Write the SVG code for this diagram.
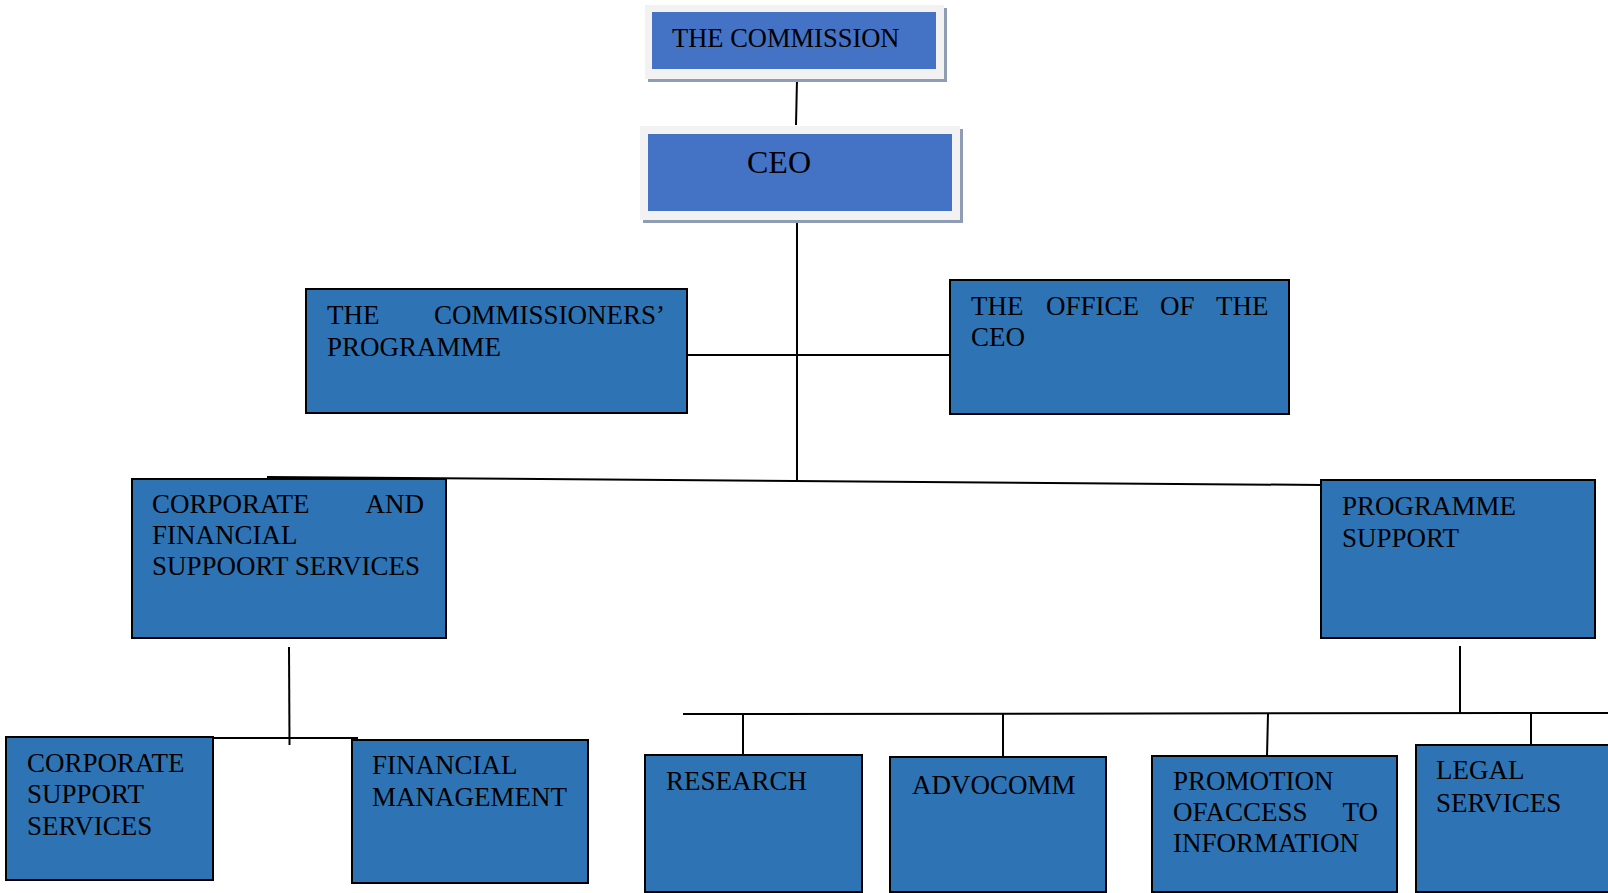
<svg xmlns="http://www.w3.org/2000/svg" width="1608" height="893" viewBox="0 0 1608 893">
<style>
text{font-family:"Liberation Serif","Times New Roman",serif;font-size:27px;fill:#000}
.box{fill:#2e74b5;stroke:#000;stroke-width:2}
.frame{fill:#f2f2f2}
.shadow{fill:#8e9cb4}
.top{fill:#4472c4}
.conn line{stroke:#000;stroke-width:2}
</style>
<rect width="1608" height="893" fill="#fff"/>
<g id="connectors" class="conn">
<line x1="797" y1="79" x2="796" y2="125"/>
<line x1="797" y1="217" x2="797" y2="481"/>
<line x1="686" y1="355" x2="951" y2="355"/>
<line x1="267" y1="477" x2="1321" y2="485"/>
<line x1="289" y1="647" x2="289.5" y2="745"/>
<line x1="164" y1="738" x2="358" y2="738"/>
<line x1="1460" y1="646" x2="1460" y2="714"/>
<line x1="683" y1="714" x2="1608" y2="713"/>
<line x1="743" y1="714" x2="743" y2="755"/>
<line x1="1003" y1="714" x2="1003" y2="757"/>
<line x1="1268" y1="714" x2="1267" y2="756"/>
<line x1="1531" y1="714" x2="1531" y2="745"/>
</g>
<g id="commission">
<rect class="shadow" x="648" y="8" width="299" height="74"/>
<rect class="frame" x="645" y="5" width="299" height="74"/>
<rect class="top" x="652" y="12" width="284" height="57"/>
<text x="672" y="47" style="font-size:26.5px">THE COMMISSION</text>
</g>
<g id="ceo">
<rect class="shadow" x="643" y="129" width="320" height="94"/>
<rect class="frame" x="640" y="126" width="320" height="94"/>
<rect class="top" x="648" y="134" width="304" height="77"/>
<text x="747" y="173" style="font-size:32px">CEO</text>
</g>
<g id="commissioners-programme">
<rect class="box" x="306" y="289" width="381" height="124"/>
<text x="327" y="324">THE</text>
<text x="665" y="324" text-anchor="end">COMMISSIONERS’</text>
<text x="327" y="356">PROGRAMME</text>
</g>
<g id="office-of-ceo">
<rect class="box" x="950" y="280" width="339" height="134"/>
<text y="315"><tspan x="971">THE</tspan><tspan x="1046">OFFICE</tspan><tspan x="1160">OF</tspan><tspan x="1216">THE</tspan></text>
<text x="971" y="346">CEO</text>
</g>
<g id="corporate-financial">
<rect class="box" x="132" y="479" width="314" height="159"/>
<text x="152" y="513">CORPORATE</text>
<text x="424" y="513" text-anchor="end">AND</text>
<text x="152" y="544">FINANCIAL</text>
<text x="152" y="575">SUPPOORT SERVICES</text>
</g>
<g id="programme-support">
<rect class="box" x="1321" y="480" width="274" height="158"/>
<text x="1342" y="515">PROGRAMME</text>
<text x="1342" y="547">SUPPORT</text>
</g>
<g id="corporate-support-services">
<rect class="box" x="6" y="737" width="207" height="143"/>
<text x="27" y="772">CORPORATE</text>
<text x="27" y="803">SUPPORT</text>
<text x="27" y="835">SERVICES</text>
</g>
<g id="financial-management">
<rect class="box" x="352" y="740" width="236" height="143"/>
<text x="372" y="774">FINANCIAL</text>
<text x="372" y="806">MANAGEMENT</text>
</g>
<g id="research">
<rect class="box" x="645" y="755" width="217" height="137"/>
<text x="666" y="790">RESEARCH</text>
</g>
<g id="advocomm">
<rect class="box" x="890" y="757" width="216" height="135"/>
<text x="912" y="794">ADVOCOMM</text>
</g>
<g id="promotion-access">
<rect class="box" x="1152" y="756" width="245" height="136"/>
<text x="1173" y="790">PROMOTION</text>
<text x="1173" y="821">OFACCESS</text>
<text x="1378" y="821" text-anchor="end">TO</text>
<text x="1173" y="852">INFORMATION</text>
</g>
<g id="legal-services">
<rect class="box" x="1416" y="745" width="200" height="147"/>
<text x="1436" y="779">LEGAL</text>
<text x="1436" y="812">SERVICES</text>
</g>
</svg>
